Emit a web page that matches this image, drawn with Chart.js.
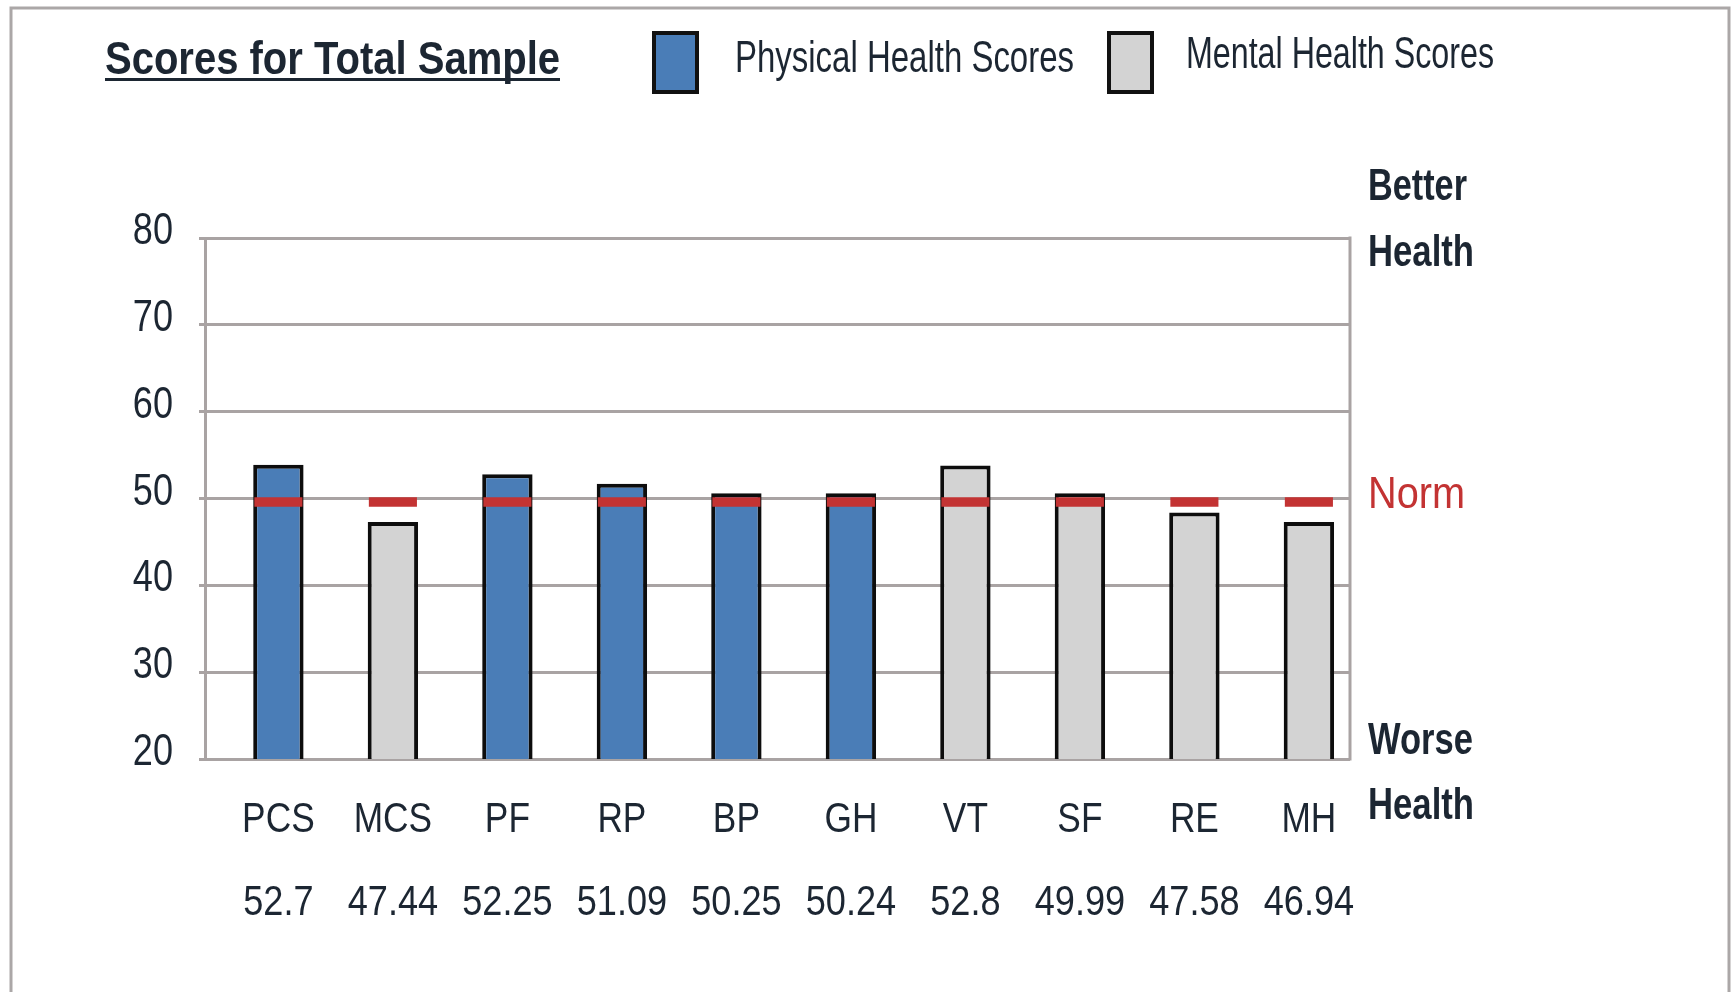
<!DOCTYPE html>
<html>
<head>
<meta charset="utf-8">
<script src="https://cdn.jsdelivr.net/npm/chart.js@4.4.1/dist/chart.umd.min.js"></script>
<style>
  html, body { margin: 0; padding: 0; background: #ffffff; }
  #wrap { width: 1733px; height: 992px; position: relative; }
  canvas { display: block; }
</style>
</head>
<body>
<div id="wrap"><canvas id="c" width="1733" height="992"></canvas></div>
<script>
// ---- data ----
const categories = ['PCS', 'MCS', 'PF', 'RP', 'BP', 'GH', 'VT', 'SF', 'RE', 'MH'];
const scoreLabels = ['52.7', '47.44', '52.25', '51.09', '50.25', '50.24', '52.8', '49.99', '47.58', '46.94'];
const barValues = [53.9, 47.3, 52.8, 51.7, 50.6, 50.6, 53.8, 50.6, 48.4, 47.3];
const scoreGroup = ['physical', 'mental', 'physical', 'physical', 'physical', 'physical', 'mental', 'mental', 'mental', 'mental'];
const normRange = [49.05, 50.15];
const yTicks = [20, 30, 40, 50, 60, 70, 80];
const titleText = 'Scores for Total Sample';
const legendLabels = ['Physical Health Scores', 'Mental Health Scores'];
const sideLabels = ['Better', 'Health', 'Norm', 'Worse', 'Health'];

// ---- styles ----
const BLUE = '#4a7db7';
const GREY = '#d3d3d3';
const RED = '#c33333';
const GRID = '#a9a3a3';
const TEXT = '#1c2632';
const FONT = '"Liberation Sans", Arial, sans-serif';

const physicalData = [];
const mentalData = [];
const normData = [];
categories.forEach((c, i) => {
  if (scoreGroup[i] === 'physical') physicalData.push({ x: i, y: barValues[i] });
  else mentalData.push({ x: i, y: barValues[i] });
  normData.push({ x: i, y: normRange.slice() });
});

function drawScaled(ctx, text, x, y, sx, font, color, align) {
  ctx.save();
  ctx.font = font;
  const w = ctx.measureText(text).width * sx;
  let left = x;
  if (align === 'center') left = x - w / 2;
  else if (align === 'right') left = x - w;
  ctx.translate(left, y);
  ctx.scale(sx, 1);
  ctx.fillStyle = color;
  ctx.textAlign = 'left';
  ctx.textBaseline = 'alphabetic';
  ctx.fillText(text, 0, 0);
  ctx.restore();
}
function drawFit(ctx, text, x, y, width, font, color) {
  ctx.save();
  ctx.font = font;
  const w = ctx.measureText(text).width;
  ctx.restore();
  drawScaled(ctx, text, x, y, width / w, font, color, 'left');
}

const TARGET = { left: 205, right: 1350, top: 238, bottom: 759 };

const decor = {
  id: 'decor',
  beforeDraw(chart) {
    const ctx = chart.ctx;
    ctx.save();
    ctx.fillStyle = '#ffffff';
    ctx.fillRect(0, 0, chart.width, chart.height);
    ctx.restore();
  },
  afterDatasetsDraw(chart) {
    const ctx = chart.ctx;
    const a = chart.chartArea;
    ctx.save();
    ctx.strokeStyle = GRID;
    ctx.lineWidth = 3;
    ctx.beginPath();
    ctx.moveTo(a.right, a.top - 1.5);
    ctx.lineTo(a.right, a.bottom + 1.5);
    ctx.stroke();
    ctx.restore();
  },
  afterDraw(chart) {
    const ctx = chart.ctx;
    const xs = chart.scales.x;
    const ys = chart.scales.y;
    yTicks.forEach(v => {
      const py = ys.getPixelForValue(v);
      drawScaled(ctx, String(v), 173, py + 6, 0.82, '44px ' + FONT, TEXT, 'right');
    });
    categories.forEach((c, i) => {
      const px = xs.getPixelForValue(i);
      drawScaled(ctx, c, px, 832, 0.84, '42px ' + FONT, TEXT, 'center');
      drawScaled(ctx, scoreLabels[i], px, 915, 0.86, '42px ' + FONT, TEXT, 'center');
    });
    drawFit(ctx, titleText, 105, 74, 455, '600 46px ' + FONT, TEXT);
    ctx.save();
    ctx.fillStyle = TEXT;
    ctx.fillRect(105, 78, 455, 3);
    ctx.restore();
    ctx.save();
    ctx.lineWidth = 4;
    ctx.strokeStyle = '#111111';
    ctx.fillStyle = BLUE;
    ctx.fillRect(654, 33, 43, 59);
    ctx.strokeRect(654, 33, 43, 59);
    ctx.fillStyle = GREY;
    ctx.fillRect(1109, 33, 43, 59);
    ctx.strokeRect(1109, 33, 43, 59);
    ctx.restore();
    drawFit(ctx, legendLabels[0], 735, 72, 339, '44px ' + FONT, TEXT);
    drawFit(ctx, legendLabels[1], 1186, 68, 308, '44px ' + FONT, TEXT);
    drawFit(ctx, sideLabels[0], 1368, 200, 99, 'bold 44px ' + FONT, TEXT);
    drawFit(ctx, sideLabels[1], 1368, 266, 106, 'bold 44px ' + FONT, TEXT);
    drawFit(ctx, sideLabels[2], 1368, 508, 97, '44px ' + FONT, RED);
    drawFit(ctx, sideLabels[3], 1368, 754, 105, 'bold 44px ' + FONT, TEXT);
    drawFit(ctx, sideLabels[4], 1368, 819, 106, 'bold 44px ' + FONT, TEXT);
    ctx.save();
    ctx.strokeStyle = '#aba7a7';
    ctx.lineWidth = 3;
    ctx.beginPath();
    ctx.moveTo(11, 995);
    ctx.lineTo(11, 8);
    ctx.lineTo(1729, 8);
    ctx.lineTo(1729, 995);
    ctx.stroke();
    ctx.restore();
  }
};

const chart = new Chart(document.getElementById('c'), {
  type: 'bar',
  data: {
    datasets: [
      {
        label: 'Norm',
        data: normData,
        backgroundColor: RED,
        borderWidth: 0,
        grouped: false,
        barPercentage: 0.42,
        categoryPercentage: 1,
        order: 0
      },
      {
        label: legendLabels[0],
        data: physicalData,
        backgroundColor: BLUE,
        borderColor: '#0d0d0d',
        borderWidth: 4,
        borderSkipped: false,
        grouped: false,
        barPercentage: 0.44,
        categoryPercentage: 1,
        order: 1
      },
      {
        label: legendLabels[1],
        data: mentalData,
        backgroundColor: GREY,
        borderColor: '#0d0d0d',
        borderWidth: 4,
        borderSkipped: false,
        grouped: false,
        barPercentage: 0.44,
        categoryPercentage: 1,
        order: 1
      }
    ]
  },
  options: {
    responsive: false,
    animation: false,
    devicePixelRatio: 1,
    layout: { padding: { left: 200, right: 380, top: 238, bottom: 230 } },
    plugins: { legend: { display: false }, tooltip: { enabled: false }, title: { display: false } },
    scales: {
      x: {
        type: 'linear',
        offset: false,
        min: -0.641,
        max: 9.359,
        grid: { display: false, drawTicks: false, offset: false },
        border: { display: false },
        ticks: { display: false, stepSize: 1, includeBounds: false }
      },
      y: {
        min: 20,
        max: 80,
        ticks: { display: false, stepSize: 10 },
        grid: { color: GRID, lineWidth: 3, drawTicks: true, tickLength: 6 },
        border: { display: true, color: GRID, width: 3 }
      }
    }
  },
  plugins: [decor]
});

for (let k = 0; k < 3; k++) {
  const a = chart.chartArea;
  const p = chart.options.layout.padding;
  p.left += TARGET.left - a.left;
  p.right += a.right - TARGET.right;
  p.top += TARGET.top - a.top;
  p.bottom += a.bottom - TARGET.bottom;
  chart.update('none');
}
</script>
</body>
</html>
